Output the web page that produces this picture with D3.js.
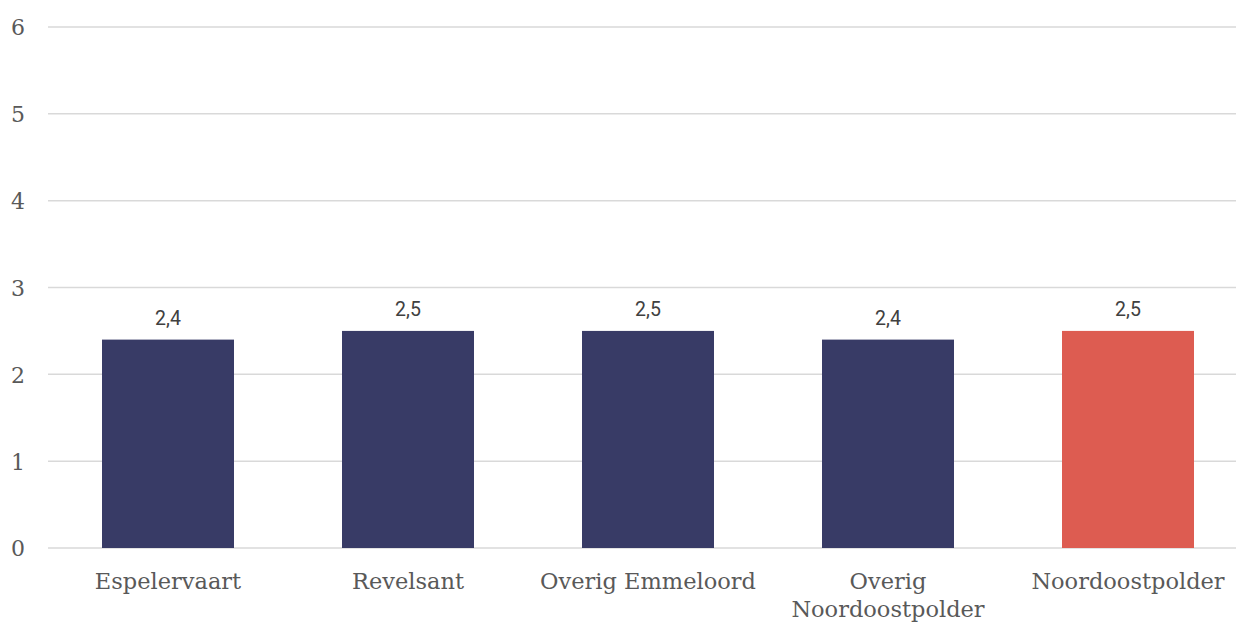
<!DOCTYPE html>
<html><head><meta charset="utf-8">
<script src="https://cdn.jsdelivr.net/npm/d3@7"></script>
<style>body{margin:0;background:#fff}</style>
</head><body>
<svg id="c" width="1236" height="623"></svg>
<script>
const categories = [["Espelervaart"],["Revelsant"],["Overig Emmeloord"],["Overig","Noordoostpolder"],["Noordoostpolder"]];
const values = [2.4, 2.5, 2.5, 2.4, 2.5];
const valueLabels = ["2,4","2,5","2,5","2,4","2,5"];
const highlight = [false,false,false,false,true];
const yTicks = [0,1,2,3,4,5,6];

(function(){
const svg = d3.select("#c");
const mLeft = 48, mRight = 1248, mTop = 27, mBottom = 548;
const x = d3.scaleBand().domain(d3.range(categories.length)).range([mLeft,mRight]).paddingInner(0.45).paddingOuter(0.225);
const y = d3.scaleLinear().domain([0,6]).range([mBottom,mTop]);

const grid = svg.append("g");
grid.selectAll("line").data(yTicks).join("line")
  .attr("x1",mLeft).attr("x2",1236)
  .attr("y1",d=>y(d)).attr("y2",d=>y(d))
  .attr("stroke","#d9d9d9").attr("stroke-width",1.5);

const yAxis = d3.axisLeft(y).tickValues(yTicks).tickSize(0).tickPadding(0).tickFormat(d3.format("d"));
const ya = svg.append("g").attr("transform","translate(26,0)").call(yAxis);
ya.select(".domain").remove();
ya.selectAll("text").attr("font-family","'DejaVu Serif', serif").attr("font-size",22).attr("fill","#595959").attr("text-anchor","middle").attr("x",-8).attr("dy","0.36em");

svg.append("g").selectAll("rect").data(values).join("rect")
  .attr("x",(d,i)=>x(i)).attr("width",x.bandwidth())
  .attr("y",d=>y(d)).attr("height",d=>mBottom-y(d))
  .attr("fill",(d,i)=>highlight[i]?"#dd5c51":"#383b66");

svg.append("g").selectAll("text").data(values).join("text")
  .attr("x",(d,i)=>x(i)+x.bandwidth()/2).attr("y",d=>y(d)-15)
  .attr("text-anchor","middle").attr("font-family","Roboto, sans-serif").attr("font-size",19.5)
  .attr("fill","#404040").text((d,i)=>valueLabels[i]);

const xl = svg.append("g");
categories.forEach((lines,i)=>{
  const cx = x(i)+x.bandwidth()/2;
  const t = xl.append("text").attr("x",cx).attr("y",589)
    .attr("text-anchor","middle").attr("font-family","'DejaVu Serif', serif").attr("font-size",22.5).attr("fill","#595959");
  lines.forEach((l,j)=>t.append("tspan").attr("x",cx).attr("dy",j?28:0).text(l));
});
})();
</script>
</body></html>
